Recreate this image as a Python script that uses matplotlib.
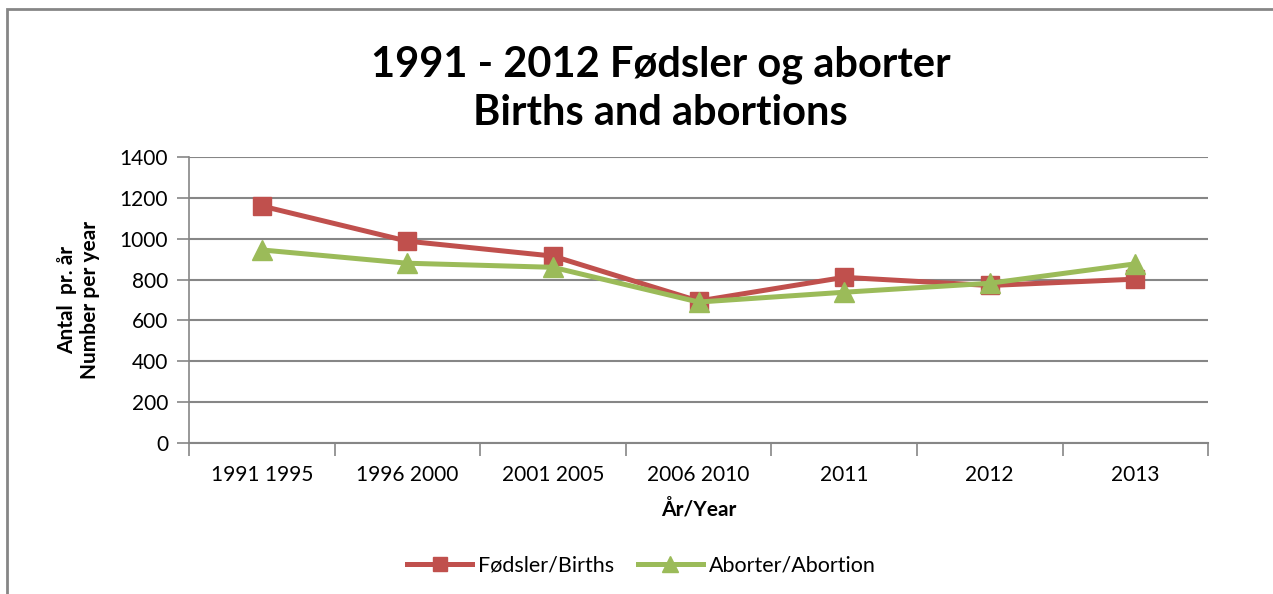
import matplotlib.pyplot as plt
from matplotlib.patches import Rectangle

plt.rcParams['font.family'] = ['Lato', 'DejaVu Sans']

# data
periods = ['1991 1995', '1996 2000', '2001 2005', '2006 2010', '2011', '2012', '2013']
births = [1160, 988, 915, 695, 811, 771, 802]
abortions = [945, 880, 860, 690, 738, 782, 877]

red = '#C0504D'
green = '#9BBB59'
grid_col = '#868686'

fig = plt.figure(figsize=(12.73, 5.94), dpi=100)
ax = fig.add_axes([0.1485, 0.2542, 0.8005, 0.4815])

x = list(range(len(periods)))
ax.plot(x, births, color=red, lw=3.6, marker='s', ms=13, label='Fødsler/Births', zorder=3)
ax.plot(x, abortions, color=green, lw=3.6, marker='^', ms=15, label='Aborter/Abortion', zorder=4)

ax.set_xlim(-0.5, len(periods) - 0.5)
ax.set_ylim(0, 1400)
ax.set_yticks(range(0, 1401, 200))
ax.set_xticks([i - 0.5 for i in range(len(periods) + 1)], minor=False)
ax.set_xticklabels([])
ax.set_xticks(x, minor=True)
ax.set_xticklabels(periods, minor=True, fontsize=15)
ax.tick_params(axis='x', which='minor', length=0, pad=16)
ax.tick_params(axis='x', which='major', length=9, color=grid_col, width=1.2)
ax.tick_params(axis='y', length=9, color=grid_col, width=1.2, labelsize=15, pad=6)

ax.grid(axis='y', color=grid_col, lw=1.5)
ax.set_axisbelow(True)
for s in ['top', 'right']:
    ax.spines[s].set_visible(False)
ax.spines['left'].set_color(grid_col)
ax.spines['bottom'].set_color(grid_col)
ax.spines['left'].set_linewidth(1.2)
ax.spines['bottom'].set_linewidth(1.5)

ax.set_xlabel('År/Year', fontsize=15, fontweight='bold', labelpad=10)
ax.set_ylabel('Antal  pr. år\nNumber per year', fontsize=15, fontweight='bold', labelpad=14)

fig.text(0.519, 0.851, '1991 - 2012 Fødsler og aborter\nBirths and abortions',
         ha='center', va='center', fontsize=30, fontweight='bold', linespacing=1.32)

leg = fig.legend(loc='center', bbox_to_anchor=(0.504, 0.048), ncol=2, frameon=False,
                 fontsize=15.5, handlelength=3, columnspacing=1.1, handletextpad=0.3,
                 markerscale=0.8)

# outer chart border
fig.patches.append(Rectangle((7 / 1273, -0.1), 1.2, 1 - 9 / 594 + 0.1,
                             transform=fig.transFigure, fill=False,
                             edgecolor=grid_col, lw=2))

fig.savefig('out.png', dpi=100)
